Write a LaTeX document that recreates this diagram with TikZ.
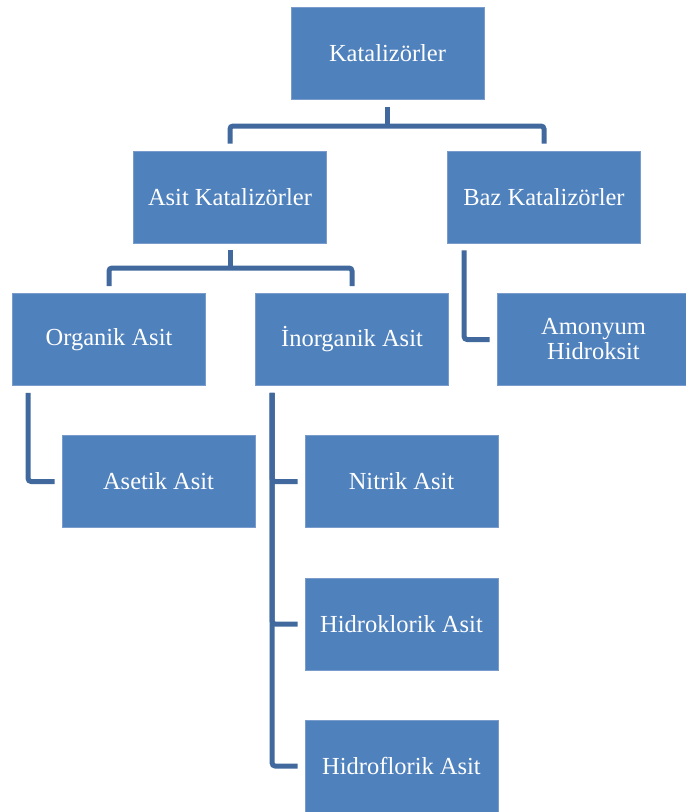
\documentclass[tikz,border=0pt]{standalone}
\usepackage{fontspec}
\setmainfont{Liberation Serif}
\definecolor{boxblue}{RGB}{79,129,189}
\definecolor{boxedge}{RGB}{122,156,204}
\definecolor{linkblue}{RGB}{65,105,158}
\begin{document}
\begin{tikzpicture}[x=1pt,y=-1pt,
	kutu/.style={rectangle,fill=boxblue,draw=boxedge,line width=0.8pt,minimum width=193pt,minimum height=92pt,
		text=white,align=center,inner sep=2pt,font=\fontsize{24.5}{25}\selectfont},
	bag/.style={draw=linkblue,line width=5pt,rounded corners=3pt,shorten <=7pt,shorten >=7pt},
	kok/.style={draw=linkblue,line width=5pt,shorten <=7pt}]
			\useasboundingbox (0,0) rectangle (686,812);
			\node[kutu] (kat) at (387.5,53.5) {Katalizörler};
			\node[kutu] (asit) at (230,197) {Asit Katalizörler};
			\node[kutu] (baz) at (544,197) {Baz Katalizörler};
			\node[kutu] (org) at (109,339.5) {Organik Asit};
			\node[kutu] (inorg) at (352,339.5) {İnorganik Asit};
			\node[kutu] (amon) at (593.5,339.5) {Amonyum\\Hidroksit};
			\node[kutu] (asetik) at (158.5,481.5) {Asetik Asit};
			\node[kutu] (nitrik) at (401.5,481.5) {Nitrik Asit};
			\node[kutu] (hcl) at (401.5,624) {Hidroklorik Asit};
			\node[kutu] (hf) at (401.5,766) {Hidroflorik Asit};
			\path
			(387.5,126) coordinate (j1)
			(230,268) coordinate (j2)
			;
			% ust dallar
			\draw[kok] (kat.south) -- (j1);
			\draw[bag] (asit.north) |- (j1) -| (baz.north);
			\draw[kok] (asit.south) -- (j2);
			\draw[bag] (org.north) |- (j2) -| (inorg.north);
			% yan dallar
			\draw[bag] ([xshift=17pt]baz.south west) |- (amon.west);
			\draw[bag] ([xshift=16pt]org.south west) |- (asetik.west);
			\foreach \n in {nitrik,hcl,hf}
				\draw[bag] ([xshift=17pt]inorg.south west) |- (\n.west);
	\end{tikzpicture}
\end{document}
